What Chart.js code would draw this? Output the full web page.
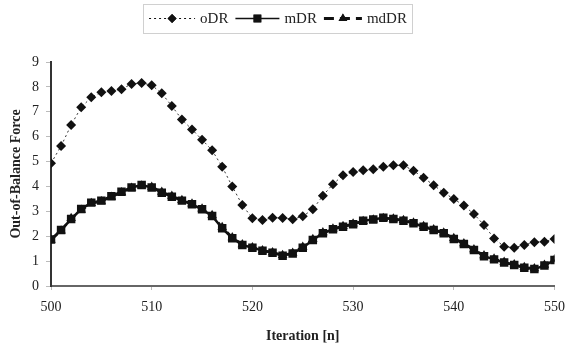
<!DOCTYPE html>
<html>
<head>
<meta charset="utf-8">
<script src="https://cdn.jsdelivr.net/npm/chart.js@4/dist/chart.umd.min.js"></script>
<style>
  html, body { margin: 0; padding: 0; background: #fff; }
  canvas { display: block; }
</style>
</head>
<body>
<canvas id="myChart" width="574" height="349"></canvas>
<script>
// iteration numbers (x axis)
var iterations = [500, 501, 502, 503, 504, 505, 506, 507, 508, 509,
    510, 511, 512, 513, 514, 515, 516, 517, 518, 519,
    520, 521, 522, 523, 524, 525, 526, 527, 528, 529,
    530, 531, 532, 533, 534, 535, 536, 537, 538, 539,
    540, 541, 542, 543, 544, 545, 546, 547, 548, 549, 550];

// out-of-balance force for each method
var oDR = [4.93, 5.62, 6.47, 7.18, 7.58, 7.78, 7.83, 7.91, 8.12, 8.16,
    8.07, 7.74, 7.23, 6.69, 6.29, 5.88, 5.45, 4.79, 4.00, 3.25,
    2.72, 2.65, 2.74, 2.73, 2.68, 2.80, 3.08, 3.63, 4.09, 4.45,
    4.58, 4.65, 4.69, 4.79, 4.85, 4.85, 4.63, 4.35, 4.05, 3.75,
    3.50, 3.23, 2.89, 2.45, 1.91, 1.58, 1.54, 1.65, 1.76, 1.78, 1.89];
var mDR = [1.87, 2.25, 2.69, 3.09, 3.35, 3.43, 3.61, 3.79, 3.96, 4.06,
    3.96, 3.75, 3.59, 3.43, 3.28, 3.08, 2.81, 2.32, 1.92, 1.65,
    1.54, 1.42, 1.34, 1.22, 1.31, 1.54, 1.85, 2.12, 2.28, 2.38,
    2.48, 2.62, 2.67, 2.74, 2.69, 2.62, 2.52, 2.38, 2.25, 2.12,
    1.89, 1.69, 1.45, 1.20, 1.07, 0.94, 0.84, 0.73, 0.68, 0.82, 1.04];
var mdDR = [1.85, 2.22, 2.72, 3.05, 3.32, 3.40, 3.58, 3.76, 3.94, 4.03,
    3.98, 3.78, 3.62, 3.45, 3.30, 3.10, 2.84, 2.36, 1.95, 1.67,
    1.55, 1.43, 1.35, 1.24, 1.33, 1.57, 1.88, 2.15, 2.30, 2.40,
    2.50, 2.60, 2.66, 2.72, 2.70, 2.64, 2.54, 2.40, 2.27, 2.14,
    1.92, 1.71, 1.47, 1.23, 1.09, 0.96, 0.86, 0.75, 0.70, 0.84, 1.06];

var seriesNames = ['oDR', 'mDR', 'mdDR'];
var xTicks = [500, 510, 520, 530, 540, 550];

function toPoints(values) {
    return values.map(function(v, i) {
        return { x: iterations[i], y: v };
    });
}

var serif = "'Liberation Serif', 'DejaVu Serif', serif";

var dataSets = [
    {
        label: seriesNames[0],
        data: toPoints(oDR),
        borderColor: '#333',
        borderWidth: 1,
        borderDash: [2, 3],
        pointStyle: 'rectRot',
        pointRadius: 5,
        pointBackgroundColor: '#111',
        pointBorderColor: '#111',
        pointBorderWidth: 0,
        fill: false
    },
    {
        label: seriesNames[1],
        data: toPoints(mDR),
        borderColor: '#111',
        borderWidth: 2.5,
        pointStyle: 'rect',
        pointRadius: 6,
        pointBackgroundColor: '#111',
        pointBorderColor: '#111',
        pointBorderWidth: 0,
        fill: false
    },
    {
        label: seriesNames[2],
        data: toPoints(mdDR),
        borderColor: '#111',
        borderWidth: 2.5,
        borderDash: [9, 4],
        pointStyle: 'triangle',
        pointRadius: 5.5,
        pointBackgroundColor: '#111',
        pointBorderColor: '#111',
        pointBorderWidth: 0,
        fill: false
    }
];

// legend with a line sample on each side of the marker, inside a box
var boxLegend = {
    id: 'boxLegend',
    afterDraw: function(chart) {
        var ctx = chart.ctx;
        var samples = [
            { dash: [2, 3], width: 1, style: 'rectRot', r: 4.5, len: 46 },
            { dash: [], width: 1.5, style: 'rect', r: 5.5, len: 44 },
            { dash: [10, 6], width: 3, style: 'triangle', r: 5, len: 38 }
        ];
        ctx.save();
        ctx.font = '15px ' + serif;
        var total = 0;
        for (var i = 0; i < samples.length; i++) {
            samples[i].tw = ctx.measureText(seriesNames[i]).width;
            total += samples[i].len + 5 + samples[i].tw;
        }
        total += 7 * (samples.length - 1) + 11;
        var left = 277.5 - total / 2;
        var top = 4, h = 29, cy = top + h / 2;
        ctx.strokeStyle = '#d0d0d0';
        ctx.lineWidth = 1;
        ctx.strokeRect(Math.round(left) + 0.5, top + 0.5, Math.round(total), h);
        var x = left + 6;
        for (i = 0; i < samples.length; i++) {
            var s = samples[i];
            ctx.strokeStyle = '#111';
            ctx.lineWidth = s.width;
            ctx.setLineDash(s.dash);
            ctx.beginPath();
            ctx.moveTo(x, cy);
            ctx.lineTo(x + s.len, cy);
            ctx.stroke();
            ctx.setLineDash([]);
            Chart.helpers.drawPoint(ctx, {
                pointStyle: s.style, radius: s.r, borderWidth: 0
            }, x + s.len / 2, cy);
            ctx.fillStyle = '#111';
            ctx.fill();
            ctx.fillStyle = '#222';
            ctx.textBaseline = 'middle';
            ctx.fillText(seriesNames[i], x + s.len + 5, cy + 1);
            x += s.len + 5 + s.tw + 7;
        }
        ctx.restore();
    }
};

var ctx = document.getElementById('myChart').getContext('2d');
var myChart = new Chart(ctx, {
    type: 'line',
    data: { datasets: dataSets },
    options: {
        responsive: false,
        maintainAspectRatio: false,
        animation: false,
        layout: { padding: { top: 62, left: 0, right: 13, bottom: 0 } },
        plugins: {
            legend: { display: false },
            tooltip: { enabled: false }
        },
        scales: {
            x: {
                type: 'linear',
                min: 500,
                max: 550,
                afterBuildTicks: function(scale) {
                    scale.ticks = xTicks.map(function(v) { return { value: v }; });
                },
                afterFit: function(scale) { scale.height = 63; },
                border: { color: '#666', width: 2 },
                grid: { drawOnChartArea: false, drawTicks: true, tickLength: 4, color: '#bbb' },
                ticks: { color: '#222', padding: 9, font: { family: serif, size: 14 } },
                title: {
                    display: true,
                    text: 'Iteration [n]',
                    color: '#222',
                    padding: { top: 5 },
                    font: { family: serif, size: 14, weight: 'bold' }
                }
            },
            y: {
                min: 0,
                max: 9,
                afterFit: function(scale) { scale.width = 51; },
                border: { color: '#333', width: 2 },
                grid: { drawOnChartArea: false, drawTicks: true, tickLength: 5, color: '#bbb' },
                ticks: { stepSize: 1, color: '#222', padding: 7, font: { family: serif, size: 14 } },
                title: {
                    display: true,
                    text: 'Out-of-Balance Force',
                    color: '#222',
                    padding: { top: 8, bottom: 0 },
                    font: { family: serif, size: 14, weight: 'bold' }
                }
            }
        }
    },
    plugins: [boxLegend]
});
</script>
</body>
</html>
